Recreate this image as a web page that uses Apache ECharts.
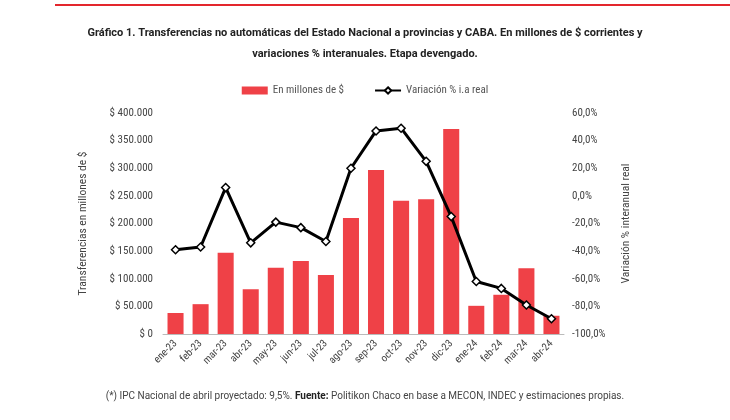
<!DOCTYPE html>
<html lang="es">
<head>
<meta charset="UTF-8">
<script src="https://cdn.jsdelivr.net/npm/echarts@6/dist/echarts.min.js"></script>
<style>
  body{margin:0;background:#fff;}
  #container{width:730px;height:420px;}
</style>
</head>
<body>
<div id="container"></div>
<script>
var meses = ['ene-23','feb-23','mar-23','abr-23','may-23','jun-23','jul-23','ago-23','sep-23','oct-23','nov-23','dic-23','ene-24','feb-24','mar-24','abr-24'];
var millones = [38000,54000,147000,81000,120000,132000,107000,210000,297000,241000,244000,371000,51000,71000,119000,33000];
var variacion = [-39,-37,6,-34,-19,-23,-33,20,47,49,25,-15,-62,-67,-79,-89];

var chart = echarts.init(document.getElementById('container'));
var fuente = 'Roboto Condensed, Roboto, sans-serif';
var txt = '#444';

function pesos(v){
  return '$ ' + v.toLocaleString('de-DE');
}

chart.setOption({
  textStyle:{fontFamily:fuente},
  graphic:[
    {type:'rect', shape:{x:55,y:4,width:675,height:2}, style:{fill:'#e3262d'}},
    {type:'text', left:'center', top:28, style:{text:'Gráfico 1. Transferencias no automáticas del Estado Nacional a provincias y CABA. En millones de $ corrientes y', font:'bold 11px Roboto, sans-serif', fill:'#222'}},
    {type:'text', left:'center', top:49, style:{text:'variaciones % interanuales. Etapa devengado.', font:'bold 11px Roboto, sans-serif', fill:'#222'}},
    {type:'text', left:'center', top:391, style:{rich:{a:{fontSize:10,fill:txt,fontFamily:'Roboto'},b:{fontSize:10,fill:'#222',fontWeight:'bold',fontFamily:'Roboto'}}, text:'{a|(*) IPC Nacional de abril proyectado: 9,5%. }{b|Fuente:}{a| Politikon Chaco en base a MECON, INDEC y estimaciones propias.}'}}
  ],
  legend:{
    top:80, left:'center', itemGap:30, itemWidth:26, itemHeight:8,
    textStyle:{color:'#555',fontSize:11},
    data:[{name:'En millones de $', icon:'rect'},{name:'Variación % i.a real'}]
  },
  grid:{left:163, right:166, top:113, bottom:86},
  xAxis:{
    type:'category', data:meses,
    axisLine:{lineStyle:{color:'#bbb'}}, axisTick:{show:false},
    axisLabel:{color:txt, fontSize:10.5, rotate:45, interval:0}
  },
  yAxis:[
    {type:'value', min:0, max:400000, interval:50000,
     name:'Transferencias en millones de $', nameLocation:'middle', nameGap:74,
     nameTextStyle:{color:txt,fontSize:11.5},
     axisLabel:{color:txt,fontSize:11,margin:10,formatter:pesos}, splitLine:{show:false}},
    {type:'value', min:-100, max:60, interval:20,
     name:'Variación % interanual real', nameLocation:'middle', nameGap:56, nameRotate:90,
     nameTextStyle:{color:txt,fontSize:11.5},
     axisLabel:{color:txt,fontSize:11,formatter:function(v){return v.toFixed(1).replace('.',',')+'%';}},
     splitLine:{show:false}}
  ],
  series:[
    {name:'En millones de $', type:'bar', data:millones, barWidth:'64%',
     itemStyle:{color:'#ef4147'}},
    {name:'Variación % i.a real', type:'line', yAxisIndex:1, data:variacion,
     symbol:'diamond', symbolSize:8,
     lineStyle:{color:'#000',width:3},
     itemStyle:{color:'#fff',borderColor:'#000',borderWidth:1.5}}
  ]
});
</script>
</body>
</html>
